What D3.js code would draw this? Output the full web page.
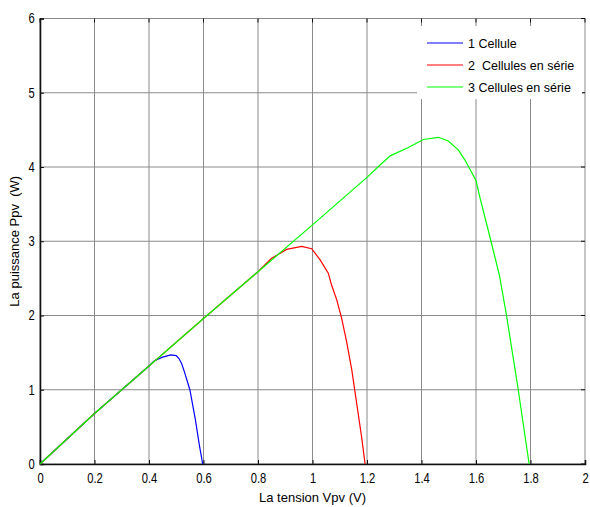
<!DOCTYPE html>
<html>
<head>
<meta charset="utf-8">
<script src="https://cdn.jsdelivr.net/npm/d3@7"></script>
<style>
  body { margin: 0; background: #fff; }
  text { font-family: "Liberation Sans", Arial, sans-serif; fill: #000; }
</style>
</head>
<body>
<div id="chart"></div>
<script>
const width = 590, height = 507;

// data (V, P)
const oneCell = [
  [0, 0], [0.1, 0.34], [0.2, 0.68], [0.3, 1.0], [0.4, 1.32], [0.42, 1.39],
  [0.45, 1.44], [0.48, 1.47], [0.5, 1.46], [0.51, 1.42], [0.52, 1.35],
  [0.53, 1.24], [0.55, 1.0], [0.57, 0.6], [0.585, 0.25], [0.597, 0]
];
const twoCells = [
  [0, 0], [0.2, 0.68], [0.4, 1.32], [0.6, 1.96], [0.8, 2.59], [0.85, 2.77],
  [0.905, 2.89], [0.96, 2.93], [0.997, 2.9], [1.028, 2.75], [1.058, 2.57],
  [1.07, 2.41], [1.089, 2.21], [1.107, 1.96], [1.125, 1.65], [1.144, 1.27],
  [1.162, 0.82], [1.18, 0.37], [1.193, 0]
];
const threeCells = [
  [0, 0], [0.2, 0.68], [0.4, 1.32], [0.6, 1.96], [0.8, 2.59], [1.0, 3.22],
  [1.2, 3.86], [1.24, 4.0], [1.285, 4.15], [1.35, 4.26], [1.407, 4.37],
  [1.462, 4.4], [1.498, 4.35], [1.535, 4.23], [1.56, 4.09], [1.6, 3.82],
  [1.615, 3.58], [1.655, 3.0], [1.686, 2.54], [1.712, 2.0], [1.755, 1.0],
  [1.795, 0]
];
const seriesNames = ["1 Cellule", "2  Cellules en série", "3 Cellules en série"];
const seriesColors = ["#0000ff", "#ff0000", "#00ff00"];
const xTicks = [0, 0.2, 0.4, 0.6, 0.8, 1, 1.2, 1.4, 1.6, 1.8, 2];
const yTicks = [0, 1, 2, 3, 4, 5, 6];

const plotLeft = 40, plotRight = 585, plotTop = 18.5, plotBottom = 464;

const svg = d3.select("#chart")
  .append("svg")
  .attr("width", width)
  .attr("height", height);

const x = d3.scaleLinear().domain([0, 2]).range([plotLeft, plotRight]);
const y = d3.scaleLinear().domain([0, 6]).range([plotBottom, plotTop]);

// grid
const gridColor = "#8a8a8a";
svg.append("g").selectAll("line")
  .data(xTicks)
  .enter().append("line")
  .attr("x1", d => x(d)).attr("x2", d => x(d))
  .attr("y1", plotTop).attr("y2", plotBottom)
  .attr("stroke", gridColor).attr("stroke-width", 1);
svg.append("g").selectAll("line")
  .data(yTicks)
  .enter().append("line")
  .attr("x1", plotLeft).attr("x2", plotRight)
  .attr("y1", d => y(d)).attr("y2", d => y(d))
  .attr("stroke", gridColor).attr("stroke-width", 1);

// axes (ticks inside, matlab style)
const fmt = d3.format("~g");
const xAxis = d3.axisBottom(x).tickValues(xTicks).tickSize(-4).tickPadding(9).tickFormat(fmt);
const yAxis = d3.axisLeft(y).tickValues(yTicks).tickSize(-4).tickPadding(6).tickFormat(fmt);

const gx = svg.append("g").attr("transform", `translate(0,${plotBottom})`).call(xAxis);
const gy = svg.append("g").attr("transform", `translate(${plotLeft},0)`).call(yAxis);
[gx, gy].forEach(g => {
  g.select(".domain").attr("stroke", "#111").attr("stroke-width", 1.6);
  g.selectAll(".tick line").attr("stroke", "#111");
  g.selectAll(".tick text")
    .style("font-family", "'Liberation Sans', Arial, sans-serif")
    .style("font-size", "14px")
    .attr("fill", "#000")
    .attr("transform", "scale(0.8,1)");
});
gy.selectAll(".tick text").attr("x", -6.5);

// top/right ticks
svg.append("g").selectAll("line")
  .data(xTicks).enter().append("line")
  .attr("x1", d => x(d)).attr("x2", d => x(d))
  .attr("y1", plotTop).attr("y2", plotTop + 4)
  .attr("stroke", "#111");
svg.append("g").selectAll("line")
  .data(yTicks).enter().append("line")
  .attr("x1", plotRight - 4).attr("x2", plotRight)
  .attr("y1", d => y(d)).attr("y2", d => y(d))
  .attr("stroke", "#111");

// curves
const line = d3.line().x(d => x(d[0])).y(d => y(d[1]));
[oneCell, twoCells, threeCells].forEach((s, i) => {
  svg.append("path")
    .datum(s)
    .attr("d", line)
    .attr("fill", "none")
    .attr("stroke", seriesColors[i])
    .attr("stroke-width", 1.2);
});

// legend
const legend = svg.append("g");
legend.append("rect")
  .attr("x", 417).attr("y", 26).attr("width", 165).attr("height", 73)
  .attr("fill", "#fff");
seriesNames.forEach((name, i) => {
  const ly = 43 + i * 22;
  legend.append("line")
    .attr("x1", 427).attr("x2", 463)
    .attr("y1", ly).attr("y2", ly)
    .attr("stroke", seriesColors[i]).attr("stroke-width", 1.2);
  legend.append("text")
    .attr("x", 468).attr("y", ly + 4.5)
    .style("font-size", "12.5px")
    .style("white-space", "pre")
    .text(name);
});

// axis titles
svg.append("text")
  .attr("x", (plotLeft + plotRight) / 2).attr("y", 502)
  .attr("text-anchor", "middle")
  .style("font-size", "13px")
  .text("La tension Vpv (V)");
svg.append("text")
  .attr("transform", `translate(19,${(plotTop + plotBottom) / 2}) rotate(-90)`)
  .attr("text-anchor", "middle")
  .style("font-size", "13px")
  .style("white-space", "pre")
  .text("La puissance Ppv  (W)");
</script>
</body>
</html>
